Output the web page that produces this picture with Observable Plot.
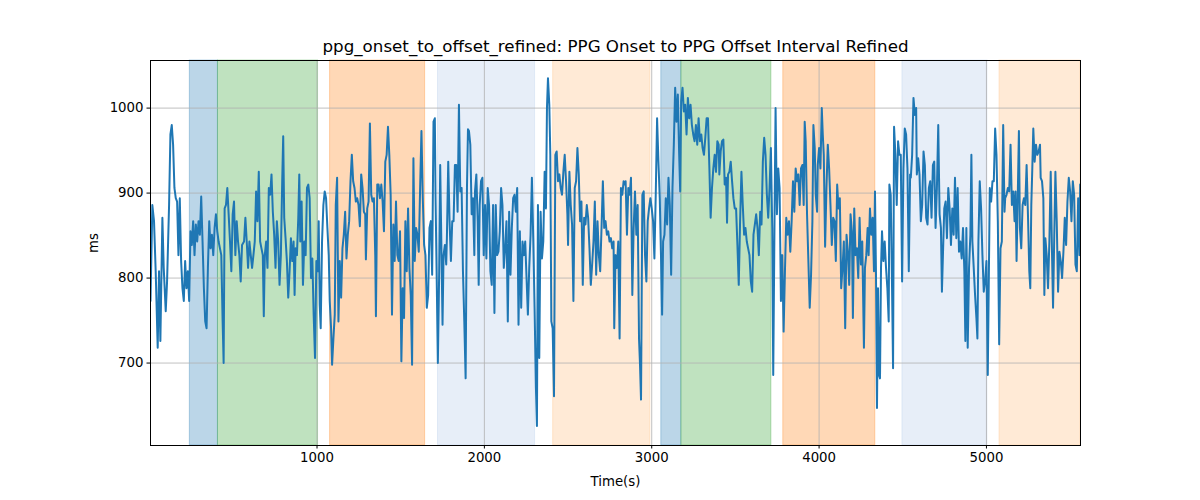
<!DOCTYPE html>
<html>
<head>
<meta charset="utf-8">
<script src="https://cdn.jsdelivr.net/npm/d3@7"></script>
<script src="https://cdn.jsdelivr.net/npm/@observablehq/plot@0.6"></script>
<style>
  html, body { margin: 0; padding: 0; background: white; }
  #chart { width: 1200px; height: 500px; }
</style>
</head>
<body>
<div id="chart"></div>
<script>
const titleText = "ppg_onset_to_offset_refined: PPG Onset to PPG Offset Interval Refined";
const xLabel = "Time(s)";
const yLabel = "ms";
const xTicks = [1000, 2000, 3000, 4000, 5000];
const yTicks = [700, 800, 900, 1000];

// shaded segments: start, end (s), colour
const bandStart = [240, 408, 1078, 1723, 2411, 3057, 3177, 3786, 4498, 5078];
const bandEnd   = [408, 1006, 1646, 2303, 2992, 3177, 3715, 4336, 5006, 5570];
const bandColor = ["#1f77b4", "#2ca02c", "#ff7f0e", "#aec7e8", "#ffbb78",
                   "#1f77b4", "#2ca02c", "#ff7f0e", "#aec7e8", "#ffbb78"];

// [time (s), interval (ms)]
const readings = [
[5,773],[16,886],[26,867],[36,808],[48,718],[56,808],[64,726],[76,871],[84,812],[96,761],[104,796],[116,886],[124,969],[132,980],[140,957],[148,906],[156,894],[164,890],[172,827],[180,894],[188,820],[196,788],[204,773],[212,820],[220,788],[228,808],[236,773],[244,855],[252,839],[260,867],[268,827],[276,863],[284,843],[292,867],[300,851],[308,896],[316,843],[324,788],[332,749],[340,741],[348,812],[356,867],[364,835],[372,851],[380,827],[388,859],[396,875],[404,855],[412,843],[420,835],[428,827],[436,749],[442,700],[448,882],[456,886],[464,906],[472,875],[480,843],[488,808],[496,875],[504,890],[512,827],[520,867],[528,843],[536,827],[544,796],[552,839],[564,843],
[572,871],[580,843],[588,812],[596,843],[604,827],[612,812],[620,827],[628,843],[636,902],[644,867],[652,925],[660,843],[668,835],[676,827],[682,755],[688,827],[696,843],[704,812],[712,906],[720,898],[728,922],[736,878],[744,851],[752,812],[760,867],[768,843],[776,792],[784,827],[792,914],[798,967],[804,871],[812,847],[820,820],[828,777],[836,808],[844,847],[852,820],[860,843],[866,780],[872,835],[880,827],[888,871],[894,922],[900,843],[908,890],[916,792],[924,843],[932,827],[940,906],[948,910],[956,894],[964,800],[972,823],[980,757],[988,706],[996,820],[1004,808],[1010,867],[1016,769],[1022,741],[1030,843],[1038,886],[1046,902],[1054,894],[1062,859],[1070,827],[1076,773],[1084,741],[1090,698],[1098,729],[1106,757],[1112,886],[1120,918],[1128,749],
[1136,820],[1144,777],[1152,835],[1160,851],[1168,878],[1176,823],[1184,851],[1192,867],[1200,914],[1208,945],[1216,914],[1224,906],[1232,890],[1240,894],[1248,886],[1256,861],[1264,922],[1272,906],[1280,878],[1288,875],[1292,822],[1300,882],[1308,890],[1316,982],[1324,898],[1332,890],[1340,894],[1348,827],[1352,755],[1360,910],[1368,910],[1376,894],[1384,910],[1392,890],[1400,855],[1408,937],[1416,945],[1424,978],[1432,945],[1440,898],[1448,757],[1456,863],[1464,820],[1472,890],[1480,827],[1488,820],[1496,855],[1504,702],[1512,788],[1520,753],[1528,867],[1536,808],[1544,882],[1552,812],[1560,780],[1568,698],[1576,941],[1584,820],[1592,859],[1600,851],[1608,831],[1616,906],[1624,973],[1632,894],[1640,839],[1648,827],[1656,765],[1664,780],[1672,859],[1680,867],[1688,804],[1696,984],[1704,988],
[1708,898],[1716,788],[1722,700],[1730,808],[1736,933],[1744,827],[1750,745],[1756,827],[1764,839],[1772,816],[1776,847],[1784,937],[1792,867],[1800,820],[1808,867],[1816,867],[1824,933],[1832,933],[1840,878],[1848,1004],[1856,902],[1864,906],[1872,808],[1880,749],[1888,682],[1896,906],[1902,975],[1908,973],[1916,957],[1924,875],[1932,894],[1940,827],[1944,902],[1952,922],[1960,867],[1966,792],[1972,886],[1980,914],[1988,918],[1996,827],[2004,886],[2012,823],[2020,906],[2028,886],[2036,808],[2044,792],[2052,886],[2060,759],[2068,886],[2076,827],[2084,831],[2092,855],[2100,906],[2108,886],[2116,812],[2124,835],[2132,867],[2140,749],[2148,878],[2156,804],[2164,859],[2172,894],[2180,898],[2188,878],[2196,906],[2204,745],[2212,855],[2220,765],[2228,843],[2236,827],[2244,843],[2252,800],[2260,757],[2268,812],
[2276,851],[2284,918],[2292,847],[2300,765],[2308,671],[2314,626],[2320,886],[2328,706],[2336,878],[2344,823],[2352,843],[2360,925],[2368,882],[2374,1000],[2380,1035],[2388,1004],[2394,945],[2400,749],[2408,741],[2416,661],[2424,945],[2432,949],[2440,914],[2448,922],[2456,906],[2464,898],[2472,925],[2480,945],[2488,914],[2496,875],[2500,839],[2508,925],[2516,886],[2524,863],[2532,773],[2540,906],[2548,914],[2556,953],[2564,922],[2572,867],[2580,890],[2588,792],[2596,871],[2604,863],[2612,886],[2620,871],[2628,835],[2636,792],[2644,816],[2652,843],[2660,890],[2668,804],[2676,867],[2684,827],[2692,808],[2700,859],[2708,914],[2716,859],[2724,867],[2732,851],[2740,855],[2748,843],[2756,847],[2764,835],[2772,843],[2776,741],[2784,827],[2792,812],[2800,843],[2808,729],[2816,906],[2824,898],[2832,914],[2840,910],
[2844,914],[2852,851],[2860,906],[2868,898],[2876,918],[2884,780],[2892,859],[2900,902],[2908,851],[2916,886],[2924,729],[2930,698],[2936,657],[2944,898],[2952,902],[2960,827],[2968,796],[2976,867],[2984,882],[2992,894],[3000,882],[3008,867],[3016,823],[3024,898],[3032,988],[3040,937],[3048,894],[3056,820],[3062,757],[3068,843],[3076,851],[3084,894],[3092,863],[3100,918],[3108,886],[3116,804],[3124,906],[3132,957],[3140,1024],[3148,984],[3156,1016],[3164,945],[3170,902],[3176,1008],[3184,1024],[3192,996],[3200,1004],[3208,969],[3216,1012],[3224,988],[3232,1004],[3240,980],[3248,969],[3256,961],[3264,980],[3272,957],[3280,988],[3288,961],[3296,969],[3304,953],[3312,945],[3320,965],[3328,988],[3336,988],[3344,933],[3352,871],[3360,906],[3368,929],[3376,945],[3384,925],[3392,961],[3400,957],
[3404,922],[3412,949],[3420,961],[3428,963],[3436,910],[3444,918],[3450,865],[3456,922],[3464,925],[3472,937],[3480,914],[3488,894],[3496,882],[3504,882],[3512,839],[3520,792],[3528,867],[3536,925],[3544,886],[3552,851],[3560,859],[3568,843],[3576,835],[3584,827],[3592,796],[3600,784],[3608,851],[3616,863],[3624,875],[3632,859],[3640,827],[3648,878],[3656,863],[3664,937],[3672,965],[3680,945],[3688,898],[3696,871],[3704,906],[3712,953],[3720,859],[3726,686],[3734,875],[3740,1000],[3748,875],[3756,929],[3764,906],[3772,773],[3780,827],[3788,737],[3796,808],[3804,871],[3812,851],[3820,867],[3828,831],[3836,867],[3844,914],[3852,878],[3860,929],[3868,914],[3876,922],[3884,886],[3892,929],[3900,933],[3908,886],[3914,984],[3920,961],[3928,875],[3936,820],[3944,765],[3952,804],[3960,867],[3966,980],[3974,953],
[3980,898],[3988,878],[3992,933],[4000,953],[4008,929],[4016,1000],[4022,969],[4028,945],[4036,837],[4044,906],[4052,957],[4060,929],[4068,886],[4076,839],[4084,871],[4092,867],[4100,820],[4108,910],[4116,882],[4124,894],[4132,788],[4140,812],[4148,843],[4156,741],[4164,851],[4172,831],[4180,792],[4188,875],[4196,855],[4202,753],[4210,882],[4218,827],[4226,835],[4234,800],[4242,871],[4250,816],[4258,843],[4268,718],[4274,812],[4282,827],[4290,859],[4296,827],[4304,882],[4312,851],[4320,871],[4328,808],[4334,902],[4340,804],[4346,647],[4352,788],[4358,686],[4364,682],[4370,812],[4376,855],[4384,820],[4392,843],[4400,812],[4408,788],[4416,749],[4420,910],[4428,898],[4436,788],[4442,694],[4448,978],[4456,945],[4464,886],[4472,961],[4480,945],[4488,945],[4496,796],[4504,929],[4512,976],[4520,969],[4528,929],[4536,808],[4544,922],
[4548,918],[4556,945],[4564,1012],[4572,992],[4580,1000],[4584,922],[4592,941],[4600,922],[4608,867],[4616,886],[4624,949],[4632,933],[4640,871],[4648,863],[4656,906],[4664,914],[4672,871],[4680,933],[4688,937],[4696,859],[4704,906],[4712,980],[4720,875],[4728,859],[4734,784],[4740,827],[4748,882],[4756,890],[4764,847],[4772,906],[4780,882],[4788,839],[4796,882],[4804,851],[4812,918],[4820,847],[4828,906],[4836,831],[4844,843],[4852,823],[4860,859],[4868,808],[4874,726],[4880,859],[4888,718],[4896,812],[4904,851],[4910,945],[4916,843],[4924,812],[4932,780],[4940,753],[4946,729],[4952,843],[4960,914],[4968,882],[4976,827],[4984,784],[4992,796],[5000,820],[5008,686],[5014,796],[5020,906],[5028,890],[5036,914],[5044,914],[5052,976],[5060,945],[5068,867],[5076,722],[5084,835],[5092,843],[5100,980],[5108,878],
[5112,894],[5120,898],[5128,906],[5136,902],[5144,957],[5152,886],[5160,902],[5168,867],[5174,902],[5180,820],[5188,906],[5194,973],[5200,859],[5208,835],[5216,886],[5224,894],[5232,886],[5240,933],[5248,875],[5256,808],[5262,788],[5268,886],[5274,929],[5280,976],[5288,937],[5296,957],[5304,945],[5312,949],[5320,957],[5324,918],[5332,914],[5340,894],[5346,780],[5352,847],[5360,827],[5368,788],[5376,843],[5384,925],[5392,827],[5398,765],[5404,835],[5412,925],[5420,867],[5428,784],[5436,831],[5444,820],[5452,800],[5460,831],[5468,871],[5476,839],[5484,890],[5492,918],[5500,902],[5508,867],[5516,914],[5524,898],[5532,816],[5540,808],[5548,894],[5556,827],[5560,910]
];

const bands = bandStart.map((s, i) => ({start: s, end: bandEnd[i], color: bandColor[i]}));
const xDomain = [5, 5562];
const yDomain = [603, 1056];

const chart = Plot.plot({
  width: 1200,
  height: 500,
  marginLeft: 150,
  marginRight: 120,
  marginTop: 60,
  marginBottom: 55,
  style: {fontFamily: "DejaVu Sans", fontSize: "13.3px", color: "black", background: "white", overflow: "visible"},
  x: {domain: xDomain, label: null},
  y: {domain: yDomain, label: null},
  color: {type: "identity"},
  marks: [
    Plot.rect(bands, {
      x1: "start", x2: d => Math.min(d.end, xDomain[1]), fill: "color", fillOpacity: 0.3,
      stroke: "color", strokeOpacity: 0.3, strokeWidth: 1
    }),
    Plot.gridX({ticks: xTicks, stroke: "#b0b0b0", strokeOpacity: 1, strokeWidth: 0.8}),
    Plot.gridY({ticks: yTicks, stroke: "#b0b0b0", strokeOpacity: 1, strokeWidth: 0.8}),
    Plot.line(readings, {x: d => d[0], y: d => d[1], stroke: "#1f77b4", strokeWidth: 2, clip: true}),
    Plot.frame({stroke: "black", strokeWidth: 1}),
    Plot.axisX({ticks: xTicks, tickFormat: d => String(d), tickSize: 3.5, tickPadding: 3.5, label: null, fontSize: 13.3}),
    Plot.axisY({ticks: yTicks, tickFormat: d => String(d), tickSize: 3.5, tickPadding: 3.5, label: null, fontSize: 13.3}),
    Plot.text([titleText], {text: d => d, frameAnchor: "top", lineAnchor: "middle", dy: -14, fontSize: 16.7, fill: "black"}),
    Plot.text([xLabel], {text: d => d, frameAnchor: "bottom", lineAnchor: "middle", dy: 36, fontSize: 13.3, fill: "black"}),
    Plot.text([yLabel], {text: d => d, frameAnchor: "left", lineAnchor: "middle", dx: -57, rotate: -90, fontSize: 13.3, fill: "black"})
  ]
});
document.getElementById("chart").appendChild(chart);
</script>
</body>
</html>
